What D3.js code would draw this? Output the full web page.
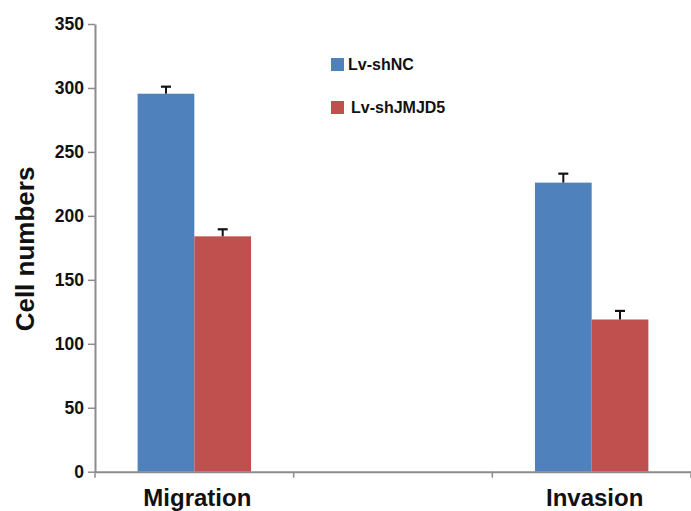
<!DOCTYPE html>
<html>
<head>
<meta charset="utf-8">
<script src="https://cdn.jsdelivr.net/npm/d3@7"></script>
<style>
  html, body { margin: 0; padding: 0; background: #fff; }
  svg { display: block; font-family: Arial, "Liberation Sans", sans-serif; }
</style>
</head>
<body>
<svg id="chart" width="691" height="511"></svg>
<script>
const categories = ["Migration", "Invasion"];
const slots = ["Migration", "", "Invasion"]; // empty middle slot on the x axis
const seriesNames = ["Lv-shNC", "Lv-shJMJD5"];
const shNC = [295.5, 226];
const shJMJD5 = [184, 119];
const shNCErr = [5.5, 7];
const shJMJD5Err = [5.5, 6.7];
const yTicks = [0, 50, 100, 150, 200, 250, 300, 350];
const colors = ["#4F81BD", "#C0504D"];

const svg = d3.select("#chart");
const x0 = 95, x1 = 691, yBottom = 471.7, yTop = 24;

const x = d3.scaleBand().domain(slots).range([x0, x1]).paddingInner(0).paddingOuter(0);
const y = d3.scaleLinear().domain([0, 350]).range([yBottom, yTop]);
const groupWidth = x.bandwidth() * 0.571;
const xs = d3.scaleBand().domain(seriesNames).range([0, groupWidth]).padding(0);

const data = categories.map((c, i) => ({
  cat: c,
  vals: [
    { s: seriesNames[0], v: shNC[i], e: shNCErr[i] },
    { s: seriesNames[1], v: shJMJD5[i], e: shJMJD5Err[i] }
  ]
}));

// Bars
const groups = svg.selectAll("g.grp").data(data).enter().append("g")
  .attr("class", "grp")
  .attr("transform", d => `translate(${x(d.cat) + (x.bandwidth() - groupWidth) / 2},0)`);

groups.selectAll("rect").data(d => d.vals).enter().append("rect")
  .attr("x", d => xs(d.s))
  .attr("y", d => y(d.v))
  .attr("width", xs.bandwidth())
  .attr("height", d => y(0) - y(d.v))
  .attr("fill", (d, i) => colors[i]);

// Error bars (upper only)
groups.selectAll("line.err").data(d => d.vals).enter().append("line")
  .attr("class", "err")
  .attr("x1", d => xs(d.s) + xs.bandwidth() / 2)
  .attr("x2", d => xs(d.s) + xs.bandwidth() / 2)
  .attr("y1", d => y(d.v))
  .attr("y2", d => y(d.v + d.e))
  .attr("stroke", "#111").attr("stroke-width", 2);
groups.selectAll("line.cap").data(d => d.vals).enter().append("line")
  .attr("class", "cap")
  .attr("x1", d => xs(d.s) + xs.bandwidth() / 2 - 5)
  .attr("x2", d => xs(d.s) + xs.bandwidth() / 2 + 5)
  .attr("y1", d => y(d.v + d.e))
  .attr("y2", d => y(d.v + d.e))
  .attr("stroke", "#111").attr("stroke-width", 2.2);

// Y axis
const yAxis = d3.axisLeft(y).tickValues(yTicks).tickSize(7).tickPadding(4).tickSizeOuter(0);
const gy = svg.append("g").attr("transform", `translate(${x0},0)`).call(yAxis);
gy.select(".domain").attr("stroke", "#8c8c8c").attr("stroke-width", 2);
gy.selectAll(".tick line").attr("stroke", "#8c8c8c").attr("stroke-width", 1.5);
gy.selectAll(".tick text").attr("font-size", 17.5).attr("font-weight", "bold").attr("fill", "#111")
  .attr("font-family", "Arial, 'Liberation Sans', sans-serif");

// X axis
const xAxis = d3.axisBottom(x).tickSize(0).tickFormat("");
const gx = svg.append("g").attr("transform", `translate(0,${yBottom})`).call(xAxis);
gx.selectAll(".tick").remove();
gx.select(".domain").attr("stroke", "#8c8c8c").attr("stroke-width", 2);
// boundary ticks between slots
const bounds = slots.map(c => x(c)).concat([x1]);
gx.selectAll("line.bt").data(bounds).enter().append("line")
  .attr("class", "bt")
  .attr("x1", d => d).attr("x2", d => d)
  .attr("y1", 0).attr("y2", 6)
  .attr("stroke", "#8c8c8c").attr("stroke-width", 1.5);
// category labels
gx.selectAll("text.cl").data(categories).enter().append("text")
  .attr("class", "cl")
  .attr("x", d => x(d) + x.bandwidth() / 2 + 3)
  .attr("y", 34)
  .attr("text-anchor", "middle")
  .attr("font-size", 24).attr("font-weight", "bold").attr("fill", "#111")
  .text(d => d);

// Y label
svg.append("text")
  .attr("transform", "translate(34,249) rotate(-90)")
  .attr("text-anchor", "middle")
  .attr("font-size", 26).attr("font-weight", "bold").attr("fill", "#111")
  .text("Cell numbers");

// Legend
const legend = svg.append("g");
const legY = [64.5, 107.5];
seriesNames.forEach((s, i) => {
  legend.append("rect")
    .attr("x", 331).attr("y", legY[i] - 6.5)
    .attr("width", 13).attr("height", 13)
    .attr("fill", colors[i]);
  legend.append("text")
    .attr("x", i === 0 ? 348 : 351).attr("y", legY[i])
    .attr("dy", "0.35em")
    .attr("font-size", 16).attr("font-weight", "bold").attr("fill", "#111")
    .text(s);
});
</script>
</body>
</html>
